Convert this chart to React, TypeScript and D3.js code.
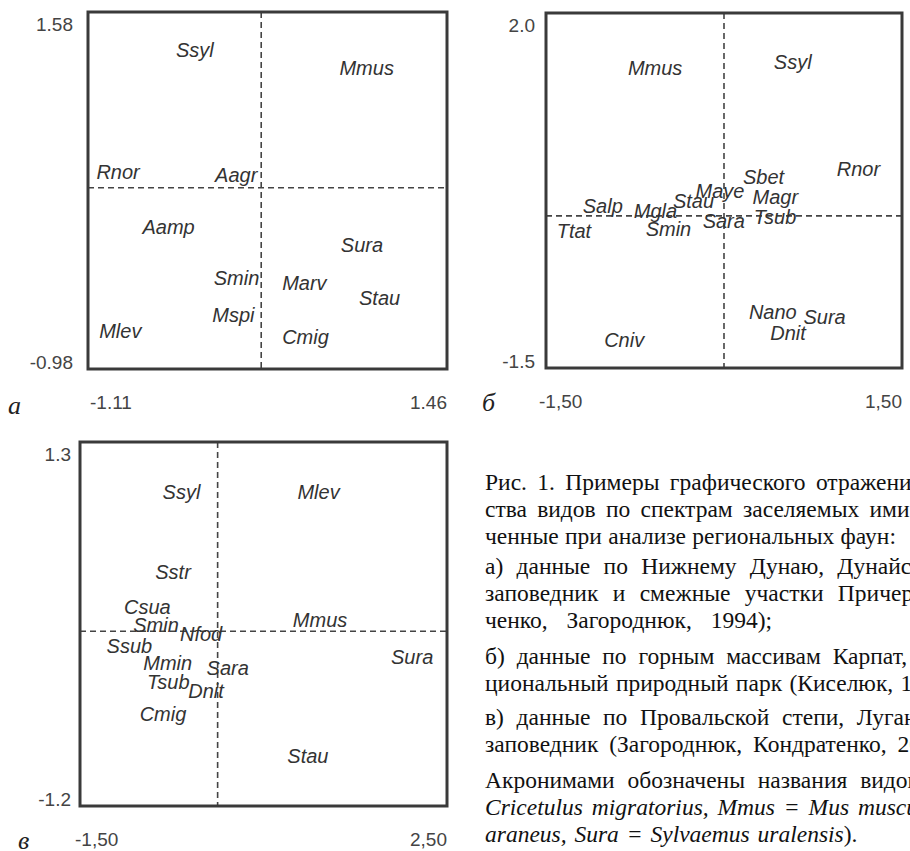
import React, { useRef, useEffect } from 'react';
import * as d3 from 'd3';

// panel а
const namesA = ['Ssyl', 'Mmus', 'Rnor', 'Aagr', 'Aamp', 'Sura', 'Smin', 'Marv', 'Stau', 'Mspi', 'Mlev', 'Cmig'];
const xA = [-0.48, 0.69, -1.05, -0.2, -0.72, 0.7, -0.21, 0.28, 0.83, -0.22, -1.03, 0.28];
const yA = [1.31, 1.18, 0.43, 0.41, 0.04, -0.09, -0.33, -0.36, -0.47, -0.59, -0.71, -0.75];
const domXA = [-1.11, 1.46];
const domYA = [-0.98, 1.58];
const xTicksA = ['-1.11', '1.46'];
const yTicksA = ['1.58', '-0.98'];
const crossA = [0.13, 0.32];

// panel б
const namesB = ['Mmus', 'Ssyl', 'Rnor', 'Sbet', 'Maye', 'Magr', 'Stau', 'Salp', 'Mgla', 'Tsub', 'Sara', 'Smin', 'Ttat', 'Nano', 'Sura', 'Dnit', 'Cniv'];
const xB = [-0.81, 0.42, 0.95, 0.16, -0.24, 0.24, -0.43, -1.19, -0.76, 0.25, -0.18, -0.66, -1.41, 0.21, 0.67, 0.39, -1.01];
const yB = [1.46, 1.52, 0.46, 0.38, 0.25, 0.19, 0.15, 0.1, 0.05, -0.01, -0.05, -0.13, -0.15, -0.95, -1.0, -1.15, -1.22];
const domXB = [-1.5, 1.5];
const domYB = [-1.5, 2.0];
const xTicksB = ['-1,50', '1,50'];
const yTicksB = ['2.0', '-1.5'];
const crossB = [0, 0];

// panel в
const namesC = ['Ssyl', 'Mlev', 'Sstr', 'Csua', 'Mmus', 'Smin', 'Nfod', 'Ssub', 'Sura', 'Mmin', 'Sara', 'Tsub', 'Dnit', 'Cmig', 'Stau'];
const xC = [-0.6, 0.87, -0.68, -1.02, 0.82, -0.92, -0.41, -1.21, 1.89, -0.81, -0.12, -0.77, -0.32, -0.85, 0.76];
const yC = [0.96, 0.96, 0.41, 0.17, 0.08, 0.04, -0.02, -0.1, -0.18, -0.22, -0.25, -0.35, -0.41, -0.57, -0.86];
const domXC = [-1.5, 2.5];
const domYC = [-1.2, 1.3];
const xTicksC = ['-1,50', '2,50'];
const yTicksC = ['1.3', '-1.2'];
const crossC = [0, 0];

// caption: paragraphs -> lines -> [text, italic]
const caption: [string, boolean][][][] = [
  [
    [['Рис. 1. Примеры графического отражения сход-', false]],
    [['ства видов по спектрам заселяемых ими стаций', false]],
    [['ченные при анализе региональных фаун:', false]],
  ],
  [
    [['а) данные по Нижнему Дунаю, Дунайский биосферный', false]],
    [['заповедник и смежные участки Причерноморья', false]],
    [['ченко, Загороднюк, 1994);', false]],
  ],
  [
    [['б) данные по горным массивам Карпат, Карпатский', false]],
    [['циональный природный парк (Киселюк, 1998);', false]],
  ],
  [
    [['в) данные по Провальской степи, Луганский', false]],
    [['заповедник (Загороднюк, Кондратенко, 2003).', false]],
  ],
  [
    [['Акронимами обозначены названия видов (', false], ['Cmig =', true]],
    [['Cricetulus migratorius, Mmus = Mus musculus', true]],
    [['araneus, Sura = Sylvaemus uralensis', true], [').', false]],
  ],
];
const paraY = [490, 574, 664, 725, 788];
// justification of the scanned column, per line
const wordSpacing = [[4.5, 4.4, 0.5], [7.4, 8.5, 13], [6, 1.5], [6.8, 5], [7, 3, 2]];

const App = () => {
  const svgRef = useRef<SVGSVGElement>(null);

  useEffect(() => {
    const svg = d3.select(svgRef.current);
    svg.selectAll('*').remove();

    const panels = [
      { names: namesA, xs: xA, ys: yA, dx: domXA, dy: domYA, xt: xTicksA, yt: yTicksA, cross: crossA,
        box: [88, 12, 447, 369], letter: 'а', lx: 8, ly: 405, xtOff: 2, ytRight: 73 },
      { names: namesB, xs: xB, ys: yB, dx: domXB, dy: domYB, xt: xTicksB, yt: yTicksB, cross: crossB,
        box: [546, 13, 902, 368], letter: 'б', lx: 482, ly: 402, xtOff: -7, ytRight: 535 },
      { names: namesC, xs: xC, ys: yC, dx: domXC, dy: domYC, xt: xTicksC, yt: yTicksC, cross: crossC,
        box: [80, 442, 447, 806], letter: 'в', lx: 18, ly: 840, xtOff: -5, ytRight: 71 },
    ];

    panels.forEach(p => {
      const [l, t, r, b] = p.box;
      const x = d3.scaleLinear().domain(p.dx).range([l, r]);
      const y = d3.scaleLinear().domain(p.dy).range([b, t]);
      const g = svg.append('g');

      // dashed cross lines
      g.append('line')
        .attr('x1', x(p.cross[0])).attr('x2', x(p.cross[0]))
        .attr('y1', t).attr('y2', b)
        .attr('stroke', '#444').attr('stroke-width', 1.6).attr('stroke-dasharray', '6,4');
      g.append('line')
        .attr('x1', l).attr('x2', r)
        .attr('y1', y(p.cross[1])).attr('y2', y(p.cross[1]))
        .attr('stroke', '#444').attr('stroke-width', 1.6).attr('stroke-dasharray', '6,4');

      // frame
      g.append('rect')
        .attr('x', l).attr('y', t)
        .attr('width', r - l).attr('height', b - t)
        .attr('fill', 'none').attr('stroke', '#3a3a3a').attr('stroke-width', 3);

      // species labels
      g.selectAll('text.sp')
        .data(p.names)
        .join('text')
        .attr('class', 'sp')
        .attr('x', (d, i) => x(p.xs[i]))
        .attr('y', (d, i) => y(p.ys[i]))
        .attr('dominant-baseline', 'central')
        .style('font-family', '"Liberation Sans", Arial, sans-serif')
        .style('font-style', 'italic')
        .style('font-size', '20px')
        .attr('fill', '#333')
        .text(d => d);

      // y tick labels (top, bottom)
      g.selectAll('text.yt')
        .data(p.yt)
        .join('text')
        .attr('class', 'yt')
        .attr('x', p.ytRight)
        .attr('y', (d, i) => (i === 0 ? t + 12 : b - 7))
        .attr('text-anchor', 'end')
        .attr('dominant-baseline', 'central')
        .style('font-family', '"Liberation Sans", Arial, sans-serif')
        .style('font-size', '19px')
        .attr('fill', '#444')
        .text(d => d);

      // x tick labels (left, right)
      g.selectAll('text.xt')
        .data(p.xt)
        .join('text')
        .attr('class', 'xt')
        .attr('x', (d, i) => (i === 0 ? l + p.xtOff : r))
        .attr('y', b + 33)
        .attr('text-anchor', (d, i) => (i === 0 ? 'start' : 'end'))
        .attr('dominant-baseline', 'central')
        .style('font-family', '"Liberation Sans", Arial, sans-serif')
        .style('font-size', '19px')
        .attr('fill', '#444')
        .text(d => d);

      // panel letter
      g.append('text')
        .attr('x', p.lx).attr('y', p.ly)
        .attr('dominant-baseline', 'central')
        .style('font-family', '"Liberation Serif", "Times New Roman", serif')
        .style('font-style', 'italic')
        .style('font-size', '26px')
        .attr('fill', '#222')
        .text(p.letter);
    });

    // caption
    const cap = svg.append('g')
      .style('font-family', '"Liberation Serif", "Times New Roman", serif')
      .style('font-size', '23.5px')
      .attr('fill', '#111');
    caption.forEach((para, pi) => {
      para.forEach((line, li) => {
        const txt = cap.append('text')
          .attr('x', 485)
          .attr('y', paraY[pi] + li * 26.8)
          .style('word-spacing', `${wordSpacing[pi][li]}px`);
        line.forEach(([s, it]) => {
          txt.append('tspan')
            .style('font-style', it ? 'italic' : 'normal')
            .text(s);
        });
      });
    });
  }, []);

  return (
    <svg ref={svgRef} width={910} height={851}
      style={{ position: 'absolute', left: 0, top: 0, background: '#fff' }} />
  );
};

export default App;
